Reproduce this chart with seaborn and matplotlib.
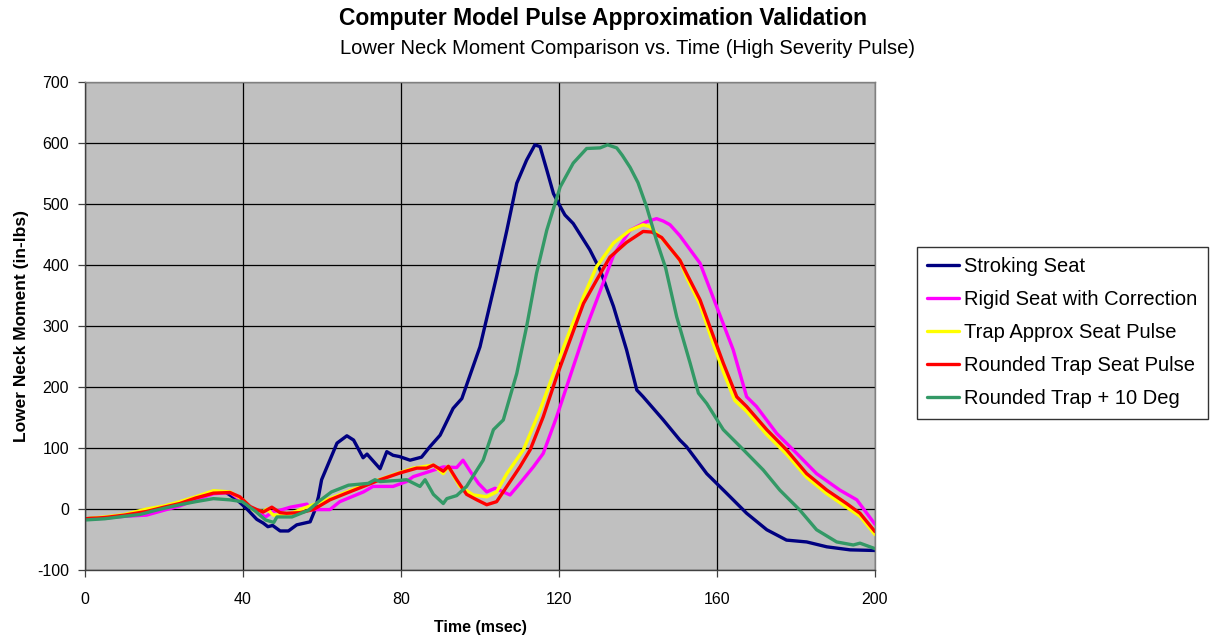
import numpy as np
import pandas as pd
import matplotlib
matplotlib.use("Agg")
import matplotlib.pyplot as plt
import seaborn as sns

# ── Data ────────────────────────────────────────────────────────────────────

stroking_t = [0, 5, 10, 15, 20, 25, 30, 33, 35.5, 38.5, 41, 43.5, 45.1, 46.3, 47.5,
              49.4, 51.5, 53.6, 57, 58.2, 59.1, 59.9, 61.2, 63.8, 66.3, 68, 70.4,
              71.4, 74.7, 76.4, 78, 79.6, 82.3, 85.2, 87.3, 89.9, 93.2, 95.4, 100,
              104.2, 106.8, 109.3, 111.8, 113.9, 115.2, 116.9, 118.6, 120.3, 121.5,
              123.6, 127.8, 130.4, 133.8, 137.1, 139.7, 141.3, 146.4, 150.6, 152.3,
              157.4, 162.4, 167.5, 172.6, 177.6, 182.7, 187.8, 193.7, 200]
stroking_m = [-16, -14, -11, -6, 3, 10, 22, 28, 28, 15, 0, -17, -23, -29, -27,
              -36, -36, -26, -21, -2, 20, 48, 68, 108, 120, 113, 84,
              90, 66, 94, 88, 86, 80, 85, 102, 121, 165, 181, 266,
              381, 457, 534, 572, 597, 594, 556, 517, 496, 482,
              468, 425, 392, 332, 261, 195, 184, 146, 113, 102,
              58, 26, -7, -34, -51, -54, -62, -67, -68]

rigid_t = [0, 5, 10, 15.6, 20, 24, 28, 32.5, 36.7, 40, 43.5, 45.7, 47.7, 49.4, 52,
           56.2, 57, 59.5, 62, 64.5, 70.5, 72.9, 78, 81.4, 83.1, 86.5, 90.7, 94.1,
           95.7, 97.9, 99.6, 101.7, 103.8, 105.9, 107.6, 110.1, 113.5, 116, 119.4,
           123.6, 127, 130.4, 133.8, 138, 142.2, 144.7, 146.4, 148.1, 150.6, 155.7,
           159.9, 164.1, 167.5, 170, 175.1, 180.2, 185.2, 191.1, 195.4, 200]
rigid_m = [-17, -15, -12, -10, -2, 5, 15, 25, 27, 12, -4, -13, -4, -2, 3,
           8, -1, -1, -1, 12, 28, 37, 37, 45, 53, 60, 69, 68,
           80, 58, 42, 28, 34, 28, 23, 42, 69, 91, 151,
           233, 299, 357, 416, 457, 471, 476, 472, 466, 448, 403,
           332, 261, 184, 168, 124, 91, 58, 31, 15, -25]

trap_t = [0, 5, 10, 15.6, 20, 24, 28, 32.5, 36.7, 40, 42.6, 45.1, 46, 47.7, 51,
          56.1, 62, 70.5, 78.9, 83.1, 88.2, 90.7, 91.9, 94.9, 98.3, 101.7, 104.2,
          106.8, 111, 115.2, 118.6, 122.8, 126.2, 129.5, 133.8, 138, 141.3, 143,
          146.4, 150.6, 152.3, 155.7, 159.1, 161.6, 164.5, 167.5, 172.6, 177.6,
          182.7, 187.8, 192.8, 196.2, 200]
trap_m = [-16, -13, -9, 0, 5, 12, 20, 30, 28, 15, -2, -4, 0, -10, -10,
          3, 17, 39, 58, 67, 72, 58, 70, 37, 23, 20, 28,
          58, 97, 162, 222, 293, 348, 397, 436, 457, 466, 463,
          441, 408, 380, 335, 270, 225, 178, 160, 122, 90,
          52, 25, 3, -12, -42]

rounded_t = [0, 5, 10, 15.6, 20, 24, 28, 32.5, 36.7, 39.2, 41.8, 43.5, 45.1, 47.3,
             49.4, 51, 54.4, 57.8, 62, 66.2, 70.5, 74.7, 79.7, 84, 86.5, 88.2, 90.7,
             92, 94.1, 96.6, 99.2, 101.7, 104.2, 106.8, 110.1, 112.7, 116, 119.4,
             122.8, 126.2, 129.5, 132.9, 137.1, 141.3, 143.5, 146, 148.1, 150.6,
             152.3, 155.7, 159.1, 161.6, 165, 167.5, 172.6, 177.6, 182.7, 187.8,
             192.8, 196.2, 200]
rounded_m = [-16, -14, -10, -4, 3, 9, 18, 26, 27, 20, 4, -1, -5, 3,
             -6, -7, -6, -1, 15, 26, 37, 48, 59, 67, 67, 72, 62,
             70, 48, 24, 15, 7, 12, 37, 69, 97, 151, 217,
             277, 337, 375, 413, 437, 455, 454, 445, 428, 408,
             386, 343, 283, 239, 184, 168, 130, 97, 58, 31,
             9, -7, -37]

deg10_t = [0, 5, 10, 13.9, 18, 24, 28, 32.5, 36.7, 39.8, 43.2, 45.7, 47.8, 48.6,
           52.4, 56.6, 59.1, 62.4, 66.7, 71.7, 73.4, 74.7, 79.7, 81.4, 84.8, 86.1,
           88.2, 90.7, 91.6, 94.1, 96.6, 100.8, 103.4, 105.9, 109.3, 111.8, 114.3,
           116.9, 120.3, 123.6, 127, 130.4, 132.3, 134.6, 136, 138, 140, 142.2,
           144.7, 147, 149.8, 153.2, 155.3, 157.4, 161.6, 166.7, 171.7, 175.9, 181,
           185.2, 190.3, 194.5, 196.2, 200]
deg10_m = [-18, -16, -12, -9, -2, 7, 12, 17, 15, 12, -4, -18, -22, -13,
           -13, -2, 12, 28, 39, 42, 48, 45, 47, 48, 37, 48,
           24, 9, 17, 22, 37, 80, 130, 146, 222, 299, 386,
           457, 528, 567, 591, 592, 597, 592, 580, 560, 535, 495,
           440, 395, 315, 239, 190, 173, 130, 97, 64, 31, -2,
           -34, -54, -59, -56, -65]

series_names = ["Stroking Seat", "Rigid Seat with Correction", "Trap Approx Seat Pulse",
                "Rounded Trap Seat Pulse", "Rounded Trap + 10 Deg"]
series_colors = ["#000080", "#FF00FF", "#FFFF00", "#FF0000", "#339966"]

x_ticks = [0, 40, 80, 120, 160, 200]
y_ticks = [-100, 0, 100, 200, 300, 400, 500, 600, 700]

# ── Long-form table for seaborn ─────────────────────────────────────────────

frames = []
for name, t, m in zip(series_names,
                      [stroking_t, rigid_t, trap_t, rounded_t, deg10_t],
                      [stroking_m, rigid_m, trap_m, rounded_m, deg10_m]):
    frames.append(pd.DataFrame({"time": t, "moment": m, "series": name}))
df = pd.concat(frames, ignore_index=True)

# ── Plot ────────────────────────────────────────────────────────────────────

sns.set_style("ticks")
plt.rcParams["font.family"] = ["Liberation Sans", "DejaVu Sans"]
plt.rcParams["axes.unicode_minus"] = False
plt.rcParams["text.color"] = "black"
plt.rcParams["axes.labelcolor"] = "black"
plt.rcParams["xtick.color"] = "black"
plt.rcParams["ytick.color"] = "black"

fig = plt.figure(figsize=(12.16, 6.4), dpi=100)
ax = fig.add_axes([85 / 1216, 1 - 570 / 640, 790 / 1216, 488 / 640])
ax.set_facecolor("#C0C0C0")

sns.lineplot(
    data=df, x="time", y="moment", hue="series",
    hue_order=series_names, palette=dict(zip(series_names, series_colors)),
    estimator=None, sort=False, linewidth=2.4, ax=ax, legend=False,
)

ax.set_xlim(0, 200)
ax.set_ylim(-100, 700)
ax.set_xticks(x_ticks)
ax.set_yticks(y_ticks)
ax.grid(True, color="black", linewidth=0.9)
ax.set_axisbelow(True)
ax.tick_params(labelsize=11.5, length=5, width=0.9, color="#404040", labelcolor="black")
ax.tick_params(axis="y", pad=6.5)
ax.tick_params(axis="x", pad=11)
for side in ["top", "right"]:
    ax.spines[side].set_color("#808080")
for side in ["left", "bottom"]:
    ax.spines[side].set_color("#404040")
for sp in ax.spines.values():
    sp.set_linewidth(1.0)

ax.set_xlabel("Time (msec)", fontsize=11.5, fontweight="bold", labelpad=9, color="black")
ax.set_ylabel("Lower Neck Moment (in-lbs)", fontsize=12.5, fontweight="bold",
              labelpad=6, color="black")

fig.text(0.496, 1 - 18 / 640, "Computer Model Pulse Approximation Validation",
         ha="center", va="center", fontsize=16.5, fontweight="bold", color="black")
fig.text(0.516, 1 - 48 / 640, "Lower Neck Moment Comparison vs. Time (High Severity Pulse)",
         ha="center", va="center", fontsize=14.5, color="black")

handles = [plt.Line2D([], [], color=c, linewidth=2.4) for c in series_colors]
leg = fig.legend(
    handles, series_names, loc="upper left",
    bbox_to_anchor=(917 / 1216, 1 - 247 / 640),
    fontsize=14.5, frameon=True, fancybox=False, edgecolor="black",
    handlelength=1.6, handletextpad=0.25, labelspacing=0.7, borderpad=0.5,
    borderaxespad=0, labelcolor="black",
)
leg.get_frame().set_linewidth(1.0)
leg.get_frame().set_facecolor("white")

fig.savefig("out.png", dpi=100)
